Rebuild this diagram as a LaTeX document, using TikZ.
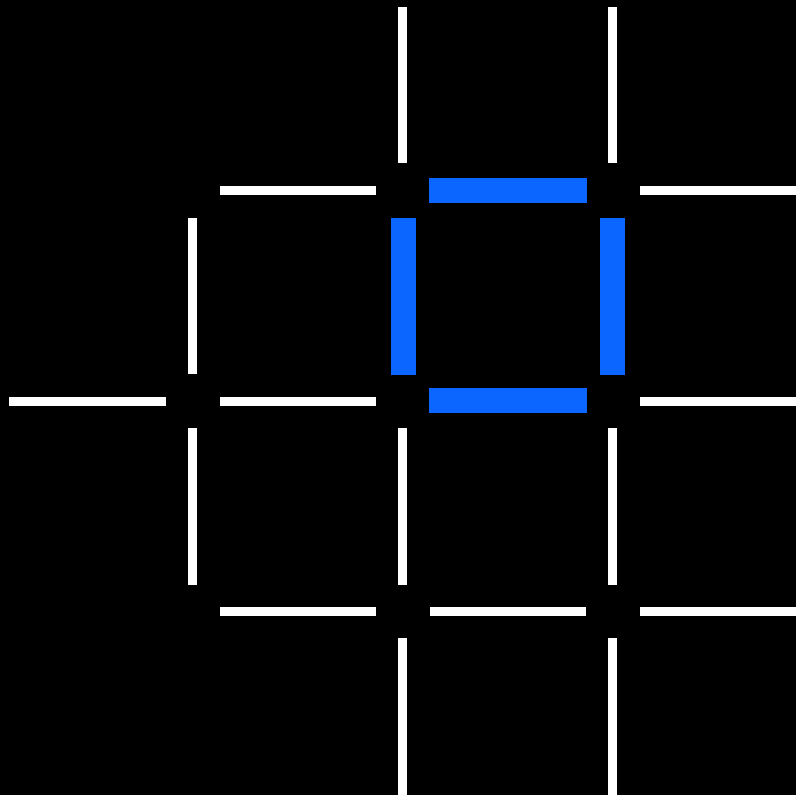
\documentclass[tikz,border=0pt]{standalone}
\definecolor{segblue}{RGB}{10,102,255}
\begin{document}
\begin{tikzpicture}[x=1pt,y=-1pt,
  wseg/.style={draw=white,line width=9pt},
  bseg/.style={draw=segblue,line width=25pt}]
\fill[black] (0,0) rectangle (796,795);
\useasboundingbox (0,0) rectangle (796,795);
\clip (0,0) rectangle (796,795);
% horizontal white
\draw[wseg] (220,190.5) -- (376,190.5);
\draw[wseg] (640,190.5) -- (800,190.5);
\draw[wseg] (9,401) -- (166,401);
\draw[wseg] (220,401) -- (376,401);
\draw[wseg] (640,401) -- (800,401);
\draw[wseg] (220,611) -- (376,611);
\draw[wseg] (430,611) -- (586,611);
\draw[wseg] (640,611) -- (800,611);
% vertical white
\draw[wseg] (402.5,7) -- (402.5,163);
\draw[wseg] (612.5,7) -- (612.5,163);
\draw[wseg] (192.5,218) -- (192.5,374);
\draw[wseg] (192.5,428) -- (192.5,585);
\draw[wseg] (402.5,428) -- (402.5,585);
\draw[wseg] (612.5,428) -- (612.5,585);
\draw[wseg] (402.5,638) -- (402.5,800);
\draw[wseg] (612.5,638) -- (612.5,800);
% blue square
\draw[bseg] (429,190.5) -- (587,190.5);
\draw[bseg] (429,400.5) -- (587,400.5);
\draw[bseg] (403,218) -- (403,375);
\draw[bseg] (612.5,218) -- (612.5,375);
\end{tikzpicture}
\end{document}
